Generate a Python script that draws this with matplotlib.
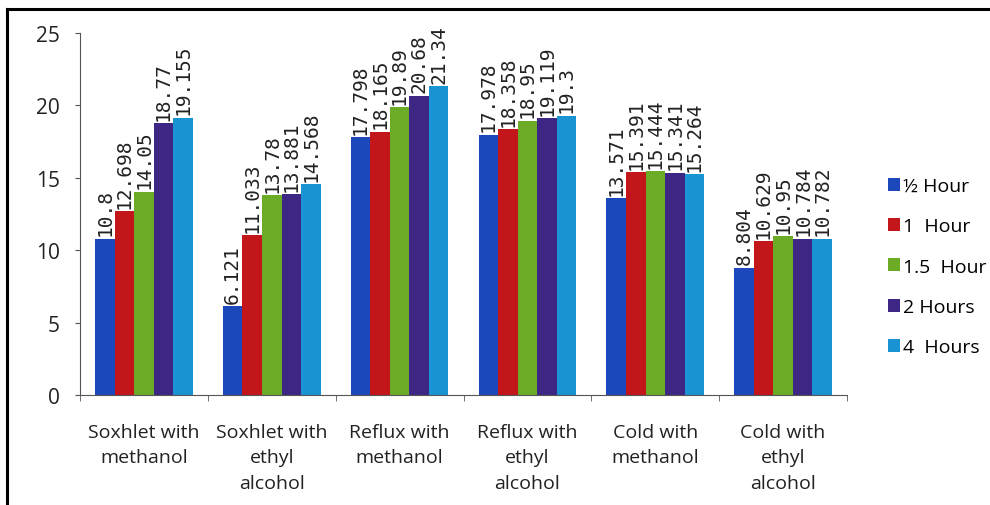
import matplotlib.pyplot as plt
from matplotlib.lines import Line2D
from matplotlib.patches import Patch
import numpy as np

categories = ["Soxhlet with\nmethanol", "Soxhlet with\nethyl\nalcohol", "Reflux with\nmethanol",
              "Reflux with\nethyl\nalcohol", "Cold with\nmethanol", "Cold with\nethyl\nalcohol"]
series_names = ["½ Hour", "1  Hour", "1.5  Hour", "2 Hours", "4  Hours"]
half_hour = [10.8, 6.121, 17.798, 17.978, 13.571, 8.804]
one_hour = [12.698, 11.033, 18.165, 18.358, 15.391, 10.629]
one_half_hour = [14.05, 13.78, 19.89, 18.95, 15.444, 10.95]
two_hours = [18.77, 13.881, 20.68, 19.119, 15.341, 10.784]
four_hours = [19.155, 14.568, 21.34, 19.3, 15.264, 10.782]
y_ticks = [0, 5, 10, 15, 20, 25]

colors = ["#1C48BC", "#C2161B", "#6BAB26", "#3E2784", "#1A93D2"]
series = [half_hour, one_hour, one_half_hour, two_hours, four_hours]

txt_font = ["Open Sans", "DejaVu Sans"]

fig = plt.figure(figsize=(9.9, 5.06), dpi=100)
ax = fig.add_axes([0.0808, 0.2174, 0.7748, 0.7154])

x = np.arange(len(categories))
w = 0.153
for k, (vals, col) in enumerate(zip(series, colors)):
    pos = x + (k - 2) * w
    ax.bar(pos, vals, width=w, color=col, edgecolor="none")
    for px, v in zip(pos, vals):
        ax.annotate(f"{v:g}", (px, v), xytext=(0, 2.5), textcoords="offset points",
                    rotation=90, ha="center", va="bottom", fontsize=14,
                    family="DejaVu Sans Mono", color="#222222")

ax.set_xlim(-0.5, len(categories) - 0.5)
ax.set_ylim(0, 25)
ax.set_yticks(y_ticks)
ax.set_yticklabels([str(t) for t in y_ticks], family=txt_font, fontsize=15, color="#222222")
ax.set_xticks(x)
ax.set_xticklabels(categories, family=txt_font, fontsize=14, color="#222222", linespacing=1.55)
ax.set_xticks(np.arange(-0.5, len(categories)), minor=True)
ax.tick_params(axis="x", which="major", length=0, pad=20)
ax.tick_params(axis="x", which="minor", length=4, color="#555555")
ax.tick_params(axis="y", length=3.5, color="#555555", pad=11)
for s in ["top", "right"]:
    ax.spines[s].set_visible(False)
for s in ["left", "bottom"]:
    ax.spines[s].set_color("#555555")

handles = [Patch(facecolor=c, edgecolor="none") for c in colors]
fig.legend(handles, series_names, loc="upper left", bbox_to_anchor=(0.879, 0.683),
           frameon=False, prop={"family": txt_font, "size": 14},
           handlelength=0.65, handleheight=0.65, handletextpad=0.15, labelspacing=1.15)

# outer frame
fig.add_artist(Line2D([7 / 990, 7 / 990], [0, 1 - 10 / 506], color="black", lw=2.2))
fig.add_artist(Line2D([7 / 990, 1], [1 - 10 / 506, 1 - 10 / 506], color="black", lw=2.2))

fig.savefig("out.png", dpi=100)
